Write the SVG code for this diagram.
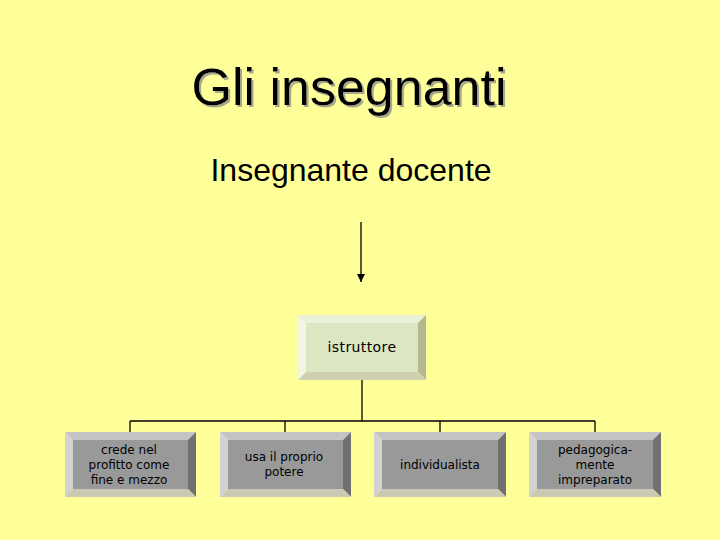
<svg xmlns="http://www.w3.org/2000/svg" width="720" height="540" viewBox="0 0 720 540">
<defs>
<style>
.t{font-family:"DejaVu Sans",Verdana,sans-serif;font-size:12px;fill:#000;text-anchor:middle}
.g .face{fill:#999999}.g .tp{fill:#C4C4C4}.g .lf{fill:#D2D2D2}.g .rt{fill:#707070}.g .bt{fill:#C9C9B4}
.gr .face{fill:#DDE6C2}.gr .tp{fill:#EBF0D8}.gr .lf{fill:#F2F5E4}.gr .rt{fill:#B4B890}.gr .bt{fill:#CDD1AE}
.ln{stroke:#000;stroke-width:1.3;fill:none}
</style>
<filter id="sh" x="-10%" y="-20%" width="120%" height="150%">
<feOffset in="SourceAlpha" dx="2" dy="2" result="o"/>
<feFlood flood-color="#A8A890"/>
<feComposite in2="o" operator="in" result="s"/>
<feMerge><feMergeNode in="s"/><feMergeNode in="SourceGraphic"/></feMerge>
</filter>
<marker id="ah" markerWidth="8" markerHeight="8" refX="8" refY="4" orient="auto" markerUnits="userSpaceOnUse" viewBox="0 0 8 8">
<path d="M0,0 L8,4 L0,8 Z" fill="#000"/>
</marker>
</defs>
<rect width="720" height="540" fill="#FFFF99"/>
<g id="title">
<text x="349" y="105" font-family="'Liberation Sans',Arial,sans-serif" font-size="52" fill="#000" text-anchor="middle" filter="url(#sh)">Gli insegnanti</text>
</g>
<g id="docente">
<text x="351" y="181" font-family="'Liberation Sans',Arial,sans-serif" font-size="32" fill="#000" text-anchor="middle">Insegnante docente</text>
</g>
<g id="connectors">
<line class="ln" x1="361" y1="222" x2="361" y2="282" marker-end="url(#ah)"/>
<line class="ln" x1="362" y1="380" x2="362" y2="421"/>
<line class="ln" x1="130" y1="421" x2="595" y2="421"/>
<line class="ln" x1="130" y1="421" x2="130" y2="432"/>
<line class="ln" x1="285" y1="421" x2="285" y2="432"/>
<line class="ln" x1="440" y1="421" x2="440" y2="432"/>
<line class="ln" x1="595" y1="421" x2="595" y2="432"/>
</g>
<g id="istruttore" class="gr">
<polygon class="tp" points="298,315 426,315 418,323 306,323"/>
<polygon class="lf" points="298,315 306,323 306,372 298,380"/>
<polygon class="rt" points="426,315 426,380 418,372 418,323"/>
<polygon class="bt" points="298,380 426,380 418,372 306,372"/>
<rect class="face" x="306" y="323" width="112" height="49"/>
<text class="t" x="362" y="352" style="font-size:14px;letter-spacing:0.4px">istruttore</text>
</g>
<g id="n1" class="g">
<polygon class="tp" points="65,432 196,432 188,440 73,440"/>
<polygon class="lf" points="65,432 73,440 73,489 65,497"/>
<polygon class="rt" points="196,432 196,497 188,489 188,440"/>
<polygon class="bt" points="65,497 196,497 188,489 73,489"/>
<rect class="face" x="73" y="440" width="115" height="49"/>
<text class="t" x="129" y="454">crede nel</text>
<text class="t" x="129" y="469">profitto come</text>
<text class="t" x="129" y="484">fine e mezzo</text>
</g>
<g id="n2" class="g">
<polygon class="tp" points="220,432 351,432 343,440 228,440"/>
<polygon class="lf" points="220,432 228,440 228,489 220,497"/>
<polygon class="rt" points="351,432 351,497 343,489 343,440"/>
<polygon class="bt" points="220,497 351,497 343,489 228,489"/>
<rect class="face" x="228" y="440" width="115" height="49"/>
<text class="t" x="284" y="461">usa il proprio</text>
<text class="t" x="284" y="476">potere</text>
</g>
<g id="n3" class="g">
<polygon class="tp" points="374,432 506,432 498,440 382,440"/>
<polygon class="lf" points="374,432 382,440 382,489 374,497"/>
<polygon class="rt" points="506,432 506,497 498,489 498,440"/>
<polygon class="bt" points="374,497 506,497 498,489 382,489"/>
<rect class="face" x="382" y="440" width="116" height="49"/>
<text class="t" x="440" y="469">individualista</text>
</g>
<g id="n4" class="g">
<polygon class="tp" points="529,432 661,432 653,440 537,440"/>
<polygon class="lf" points="529,432 537,440 537,489 529,497"/>
<polygon class="rt" points="661,432 661,497 653,489 653,440"/>
<polygon class="bt" points="529,497 661,497 653,489 537,489"/>
<rect class="face" x="537" y="440" width="116" height="49"/>
<text class="t" x="595" y="454">pedagogica-</text>
<text class="t" x="595" y="469">mente</text>
<text class="t" x="595" y="484">impreparato</text>
</g>
</svg>
